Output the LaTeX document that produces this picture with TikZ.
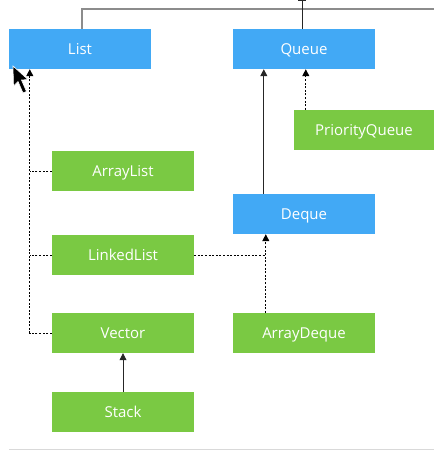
\documentclass[tikz,border=0pt]{standalone}
\usepackage{fontspec}
\setmainfont{Open Sans}
\usepackage{xcolor}
\usetikzlibrary{arrows.meta,positioning}
\definecolor{ifblue}{RGB}{66,169,245}
\definecolor{clgreen}{RGB}{122,201,67}

\begin{document}
\begin{tikzpicture}[x=1pt,y=-1pt,
iface/.style={fill=ifblue, text=white, minimum width=142pt, minimum height=40pt, inner sep=0pt, text depth=0pt, font=\fontsize{15}{17}\selectfont},
cls/.style={iface, fill=clgreen},
tip/.style={-{Triangle[length=7pt,width=7pt]}},
impl/.style={dash pattern=on 2pt off 1.6pt, line width=0.7pt},
ext/.style={line width=0.8pt, black!85}]
\useasboundingbox (0,0) rectangle (434,455);
% interfaces
\node[iface] (List) at (80,49) {List};
\node[iface] (Queue) at (304,49) {Queue};
\node[iface] (Deque) at (304,214) {Deque};
% classes
\node[cls, minimum width=140pt] (PriorityQueue) at (364,130) {PriorityQueue};
\node[cls] (ArrayList) at (123,171) {ArrayList};
\node[cls] (LinkedList) at (123,255) {LinkedList};
\node[cls] (Vector) at (123,333) {Vector};
\node[cls] (ArrayDeque) at (304,333) {ArrayDeque};
\node[cls] (Stack) at (123,412) {Stack};
% top of the tree
\coordinate (topR) at (434,9);
\coordinate (topQ) at (302,0.5);
\draw[black!45, line width=1.2pt] ([xshift=2pt]List.north) |- (topR);
\draw[ext] ([xshift=-2pt]Queue.north) -- (topQ);
\draw[ext] ([xshift=-4pt]topQ) -- ([xshift=4pt]topQ);
% List side
\coordinate (lbus) at ([xshift=21pt]List.south west);
\draw[impl, tip] (Vector.west) -| (lbus);
\draw[impl] (ArrayList.west) -- (ArrayList.west -| lbus);
\draw[impl] (LinkedList.west) -- (LinkedList.west -| lbus);
\draw[ext, tip] (Stack.north) -- (Vector.south);
% Queue side
\draw[ext, tip] ([xshift=31pt]Deque.north west) -- ([xshift=31pt]Queue.south west);
\draw[impl, tip] ([xshift=12pt]PriorityQueue.north west) -- ([xshift=73pt]Queue.south west);
\coordinate (dq) at ([xshift=33pt]Deque.south west);
\draw[impl, tip] (ArrayDeque.north -| dq) -- (dq);
\draw[impl] (LinkedList.east) -- (LinkedList.east -| dq);
% mouse pointer
\filldraw[fill=black, draw=white, line width=0.6pt] (13,66) -- (13.5,86) -- (18,81.5) -- (23,93) -- (26.5,91.5) -- (21.5,80) -- (28,79.5) -- cycle;
% bottom rule
\draw[black!15, line width=1pt] (9,449) -- (434,449);
\end{tikzpicture}
\end{document}
